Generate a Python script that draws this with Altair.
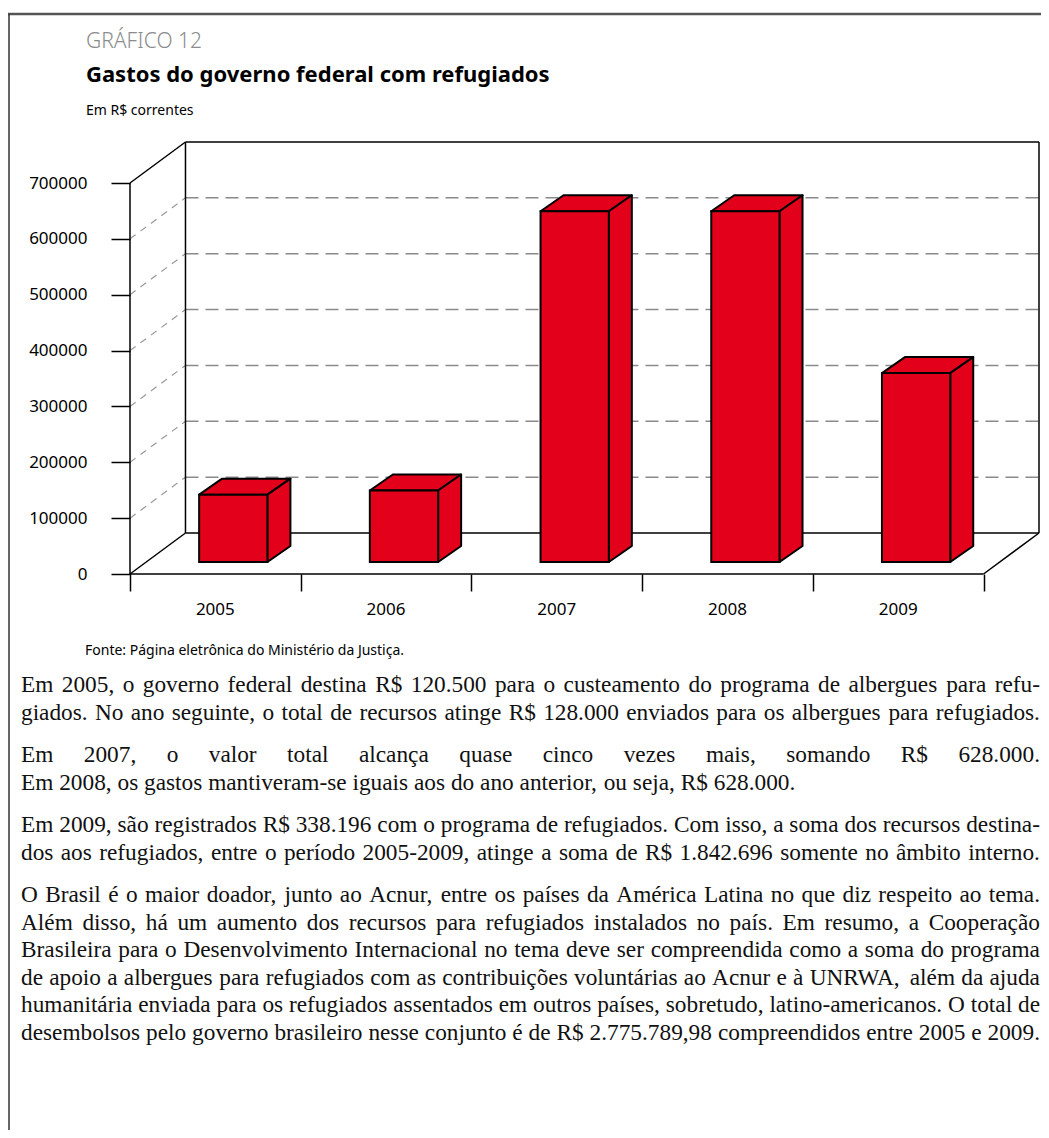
import unicodedata
import altair as alt
import pandas as pd

# ---------------- data ----------------
anos = ["2005", "2006", "2007", "2008", "2009"]
gastos = [120500, 128000, 628000, 628000, 338196]
y_ticks = [0, 100000, 200000, 300000, 400000, 500000, 600000, 700000]

sobretitulo = "GRÁFICO 12"
titulo = "Gastos do governo federal com refugiados"
subtitulo = "Em R$ correntes"
fonte = "Fonte: Página eletrônica do Ministério da Justiça."

paragrafo_1 = [
    "Em 2005, o governo federal destina R$ 120.500 para o custeamento do programa de albergues para refu-",
    "giados. No ano seguinte, o total de recursos atinge R$ 128.000 enviados para os albergues para refugiados.",
]
paragrafo_2 = [
    "Em 2007, o valor total alcança quase cinco vezes mais, somando R$ 628.000.",
    "Em 2008, os gastos mantiveram-se iguais aos do ano anterior, ou seja, R$ 628.000.",
]
paragrafo_3 = [
    "Em 2009, são registrados R$ 338.196 com o programa de refugiados. Com isso, a soma dos recursos destina-",
    "dos aos refugiados, entre o período 2005-2009, atinge a soma de R$ 1.842.696 somente no âmbito interno.",
]
paragrafo_4 = [
    "O Brasil é o maior doador, junto ao Acnur, entre os países da América Latina no que diz respeito ao tema.",
    "Além disso, há um aumento dos recursos para refugiados instalados no país. Em resumo, a Cooperação",
    "Brasileira para o Desenvolvimento Internacional no tema deve ser compreendida como a soma do programa",
    "de apoio a albergues para refugiados com as contribuições voluntárias ao Acnur e à UNRWA, além da ajuda",
    "humanitária enviada para os refugiados assentados em outros países, sobretudo, latino-americanos. O total de",
    "desembolsos pelo governo brasileiro nesse conjunto é de R$ 2.775.789,98 compreendidos entre 2005 e 2009.",
]
paragrafos = [paragrafo_1, paragrafo_2, paragrafo_3, paragrafo_4]
nao_justificadas = {paragrafo_2[1]}

# ---------------- layout ----------------
PLOT_W, PLOT_H = 909, 432
PAD_L, PAD_T = 122, 134
CANVAS_W, CANVAS_H = 1033, 1122
ORIGIN_X = 8 + PAD_L            # page x of data x = 0
ORIGIN_Y = 8 + PAD_T + PLOT_H   # page y of data y = 0
WALL_DX = 0.325
XMAX = 5 + WALL_DX
BAND_PX = PLOT_W / XMAX
PX_PER_VAL = 391 / 700000
YMAX = PLOT_H / PX_PER_VAL
WALL_DY = YMAX - y_ticks[-1]


def X(px):
    return (px - ORIGIN_X) / BAND_PX


def Y(py):
    return (ORIGIN_Y - py) / PX_PER_VAL


def dxp(p):
    return p / BAND_PX


def dyp(p):
    return p / PX_PER_VAL


RED = "#E2001A"
n = len(anos)
xs = alt.Scale(domain=[0, XMAX], nice=False, zero=False)
ys = alt.Scale(domain=[0, YMAX], nice=False, zero=False)
XAX = alt.Axis(values=list(range(n + 1)), labels=False, tickSize=17, tickWidth=1.5,
               tickColor="black", domain=False, grid=False, title=None)
YAX = alt.Axis(values=y_ticks, format="d", domain=False, grid=False, tickSize=19,
               tickWidth=1.5, tickColor="black", labelFont="Noto Sans", labelFontSize=17,
               labelColor="black", labelPadding=24, title=None)


def ex(field="x"):
    return alt.X(f"{field}:Q", scale=xs, axis=XAX)


def ey(field="y"):
    return alt.Y(f"{field}:Q", scale=ys, axis=YAX, stack=None)


# ---------------- bars (pseudo 3D) ----------------
BAR_OFF, BAR_W = 0.405, 0.40
BASE = dyp(12)
BDX, BDY = dxp(23), dyp(16)

front_rows, face_rows = [], []
for i, (ano, v) in enumerate(zip(anos, gastos)):
    x0 = i + BAR_OFF
    x1 = x0 + BAR_W
    top = BASE + v
    front_rows.append({"ano": ano, "x": x0, "x2": x1, "y": BASE, "y2": top})
    pid = f"{ano}-top"
    face_rows += [
        {"poly": pid, "x": x0, "ylo": top, "yhi": top},
        {"poly": pid, "x": x0 + BDX, "ylo": top, "yhi": top + BDY},
        {"poly": pid, "x": x1, "ylo": top, "yhi": top + BDY},
        {"poly": pid, "x": x1 + BDX, "ylo": top + BDY, "yhi": top + BDY},
    ]
    pid = f"{ano}-side"
    face_rows += [
        {"poly": pid, "x": x1, "ylo": BASE, "yhi": top},
        {"poly": pid, "x": x1 + BDX, "ylo": BASE + BDY, "yhi": top + BDY},
    ]
front_df = pd.DataFrame(front_rows)
face_df = pd.DataFrame(face_rows)

# ---------------- frame lines of the 3D box ----------------
solid_df = pd.DataFrame([
    {"x": 0, "y": 0, "x2": 0, "y2": y_ticks[-1]},
    {"x": 0, "y": y_ticks[-1], "x2": WALL_DX, "y2": YMAX},
    {"x": 0, "y": 0, "x2": WALL_DX, "y2": WALL_DY},
    {"x": 0, "y": 0, "x2": n, "y2": 0},
    {"x": n, "y": 0, "x2": XMAX, "y2": WALL_DY},
    {"x": WALL_DX, "y": WALL_DY, "x2": XMAX, "y2": WALL_DY},
    {"x": WALL_DX, "y": WALL_DY, "x2": WALL_DX, "y2": YMAX},
    {"x": WALL_DX, "y": YMAX, "x2": XMAX, "y2": YMAX},
    {"x": XMAX, "y": WALL_DY, "x2": XMAX, "y2": YMAX},
])
grid_df = pd.DataFrame([
    {"x": WALL_DX, "y": v + WALL_DY, "x2": XMAX, "y2": v + WALL_DY}
    for v in y_ticks[1:-1]
])
diag_df = pd.DataFrame([
    {"x": 0, "y": v, "x2": WALL_DX, "y2": v + WALL_DY} for v in y_ticks[1:-1]
])
page_df = pd.DataFrame([
    {"x": X(8), "y": Y(14), "x2": X(8 + CANVAS_W), "y2": Y(14)},
])
page_left_df = pd.DataFrame([
    {"x": X(9), "y": Y(14), "x2": X(9), "y2": Y(8 + CANVAS_H)},
])

# ---------------- text layout ----------------
TIMES = {
    " ": 250, "a": 444, "b": 500, "c": 444, "d": 500, "e": 444, "f": 333, "g": 500,
    "h": 500, "i": 278, "j": 278, "k": 500, "l": 278, "m": 778, "n": 500, "o": 500,
    "p": 500, "q": 500, "r": 333, "s": 389, "t": 278, "u": 500, "v": 500, "w": 722,
    "x": 500, "y": 500, "z": 444, "A": 722, "B": 667, "C": 667, "D": 722, "E": 611,
    "F": 556, "G": 722, "H": 722, "I": 333, "J": 389, "K": 722, "L": 611, "M": 889,
    "N": 722, "O": 722, "P": 556, "Q": 722, "R": 667, "S": 556, "T": 611, "U": 722,
    "V": 722, "W": 944, "X": 722, "Y": 722, "Z": 611, ",": 250, ".": 250, "-": 333,
    ":": 278, "$": 500,
}


def units(s):
    tot = 0
    for ch in s:
        base = unicodedata.normalize("NFD", ch)[0]
        tot += TIMES.get(base, 500)
    return tot


BODY_L, BODY_R = 21, 1040
SPAN = BODY_R - BODY_L
todas = [l for p in paragrafos for l in p]
FS = min([23.5] + [SPAN * 1000 / units(l) for l in todas if l not in nao_justificadas])

LINE_STEP, PARA_GAP = 27.5, 15
word_rows = []
yb = 692
for p in paragrafos:
    for line in p:
        words = line.split(" ")
        ww = [units(w) * FS / 1000 for w in words]
        if line in nao_justificadas or len(words) < 2:
            gap = 250 * FS / 1000
        else:
            gap = (SPAN - sum(ww)) / (len(words) - 1)
        xp = BODY_L
        for w, wpx in zip(words, ww):
            word_rows.append({"t": w, "x": X(xp), "y": Y(yb)})
            xp += wpx + gap
        yb += LINE_STEP
    yb += PARA_GAP
body_df = pd.DataFrame(word_rows)

labels_df = pd.DataFrame({"t": anos, "x": [i + 0.5 for i in range(n)], "y": [Y(609.5)] * n})


def txt(t, x, y):
    return pd.DataFrame({"t": [t], "x": [X(x)], "y": [Y(y)]})


def rule_layer(df, **kw):
    return alt.Chart(df).mark_rule(**kw).encode(
        x=ex(), x2="x2:Q", y=ey(), y2="y2:Q",
    )


def text_layer(df, **kw):
    return alt.Chart(df).mark_text(**kw).encode(x=ex(), y=ey(), text="t:N")


frame_top = rule_layer(page_df, color="#555555", strokeWidth=2.5)
frame_left = rule_layer(page_left_df, color="#333333", strokeWidth=1.5)
grid = rule_layer(grid_df, color="#8a8a8a", strokeWidth=1.5, strokeDash=[13, 7])
diag = rule_layer(diag_df, color="#9a9a9a", strokeWidth=1.2, strokeDash=[7, 6])
box = rule_layer(solid_df, color="black", strokeWidth=1.5)

faces = alt.Chart(face_df).mark_area(
    fill=RED, stroke="black", strokeWidth=2, opacity=1, interpolate="linear",
    orient="vertical", strokeJoin="round"
).encode(x=ex(), y=ey("ylo"), y2="yhi:Q", detail="poly:N")

fronts = alt.Chart(front_df).mark_rect(fill=RED, stroke="black", strokeWidth=2).encode(
    x=ex(), x2="x2:Q", y=ey(), y2="y2:Q",
)

year_labels = text_layer(labels_df, font="Noto Sans", fontSize=17, color="black",
                         baseline="middle", align="center")
t_sup = text_layer(txt(sobretitulo, 86, 48), font="Noto Sans", fontSize=21,
                   fontWeight=300, color="#8c8c8c", align="left", baseline="alphabetic")
t_tit = text_layer(txt(titulo, 86, 82), font="Noto Sans", fontSize=22,
                   fontWeight="bold", color="black", align="left", baseline="alphabetic")
t_sub = text_layer(txt(subtitulo, 86, 115), font="Noto Sans", fontSize=14,
                   color="black", align="left", baseline="alphabetic")
t_fonte = text_layer(txt(fonte, 85, 655), font="Noto Sans", fontSize=14,
                     color="black", align="left", baseline="alphabetic")
body = text_layer(body_df, font="Liberation Serif", fontSize=FS, color="#111111",
                  align="left", baseline="alphabetic")

chart = alt.layer(
    frame_top, frame_left, grid, diag, box, faces, fronts,
    year_labels, t_sup, t_tit, t_sub, t_fonte, body,
).properties(
    width=PLOT_W,
    height=PLOT_H,
    autosize=alt.AutoSizeParams(type="none"),
    padding={"left": PAD_L, "top": PAD_T,
             "right": CANVAS_W - PAD_L - PLOT_W,
             "bottom": CANVAS_H - PAD_T - PLOT_H},
).configure_view(strokeWidth=0)

chart.save("out.html", embed_options={"renderer": "svg", "actions": False})
